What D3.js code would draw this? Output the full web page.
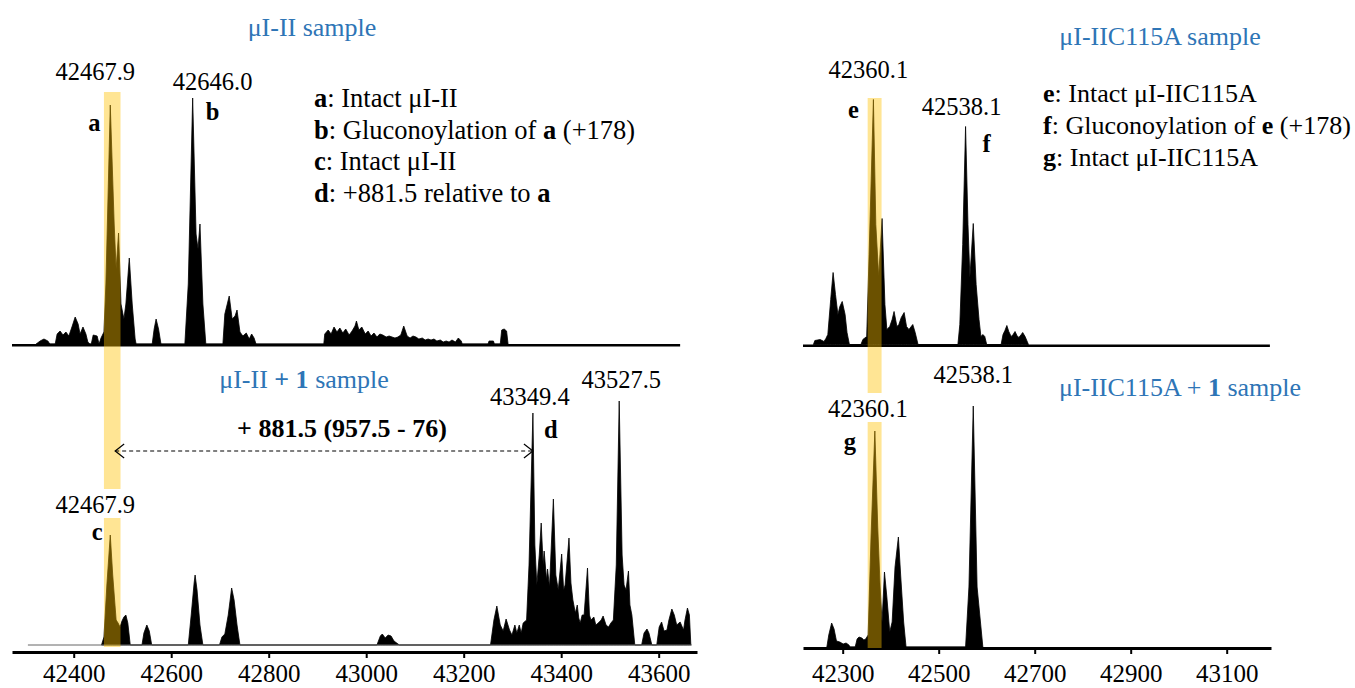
<!DOCTYPE html>
<html><head><meta charset="utf-8">
<script src="https://cdn.jsdelivr.net/npm/d3@7"></script>
<style>
body{margin:0;background:#fff;}
svg{display:block;}
text{font-family:"Liberation Serif","Times New Roman",serif;}
</style></head><body>
<svg id="c" width="1355" height="688"></svg>
<script>
// ---------- data (mass in Da, relative intensity a.u.) ----------
const ticksLeft = [42400, 42600, 42800, 43000, 43200, 43400, 43600];
const ticksRight = [42300, 42500, 42700, 42900, 43100];

const specTopLeft = [
 [42323,0],[42331,3],[42339,5],[42347,3],[42351,0],[42362,0],[42366,10],[42372,13],[42378,9],[42384,12],[42390,8],[42397,18],[42403,27],[42409,20],[42413,10],[42419,17],[42425,10],[42429,2],[42433,0],[42436,0],[42440,9],[42448,8],[42452,0],[42456,6],[42462,12],[42466,60],[42475,239],[42483,120],[42487,75],[42492,111],[42497,40],[42503,25],[42507,40],[42514,86],[42520,40],[42526,5],[42528,0],
 [42561,0],[42565,15],[42569,25],[42574,15],[42579,0],
 [42628,0],[42635,60],[42644,246],[42651,110],[42655,95],[42659,120],[42665,40],[42671,0],
 [42706,0],[42710,30],[42719,48],[42725,25],[42731,28],[42735,34],[42741,12],[42747,8],[42754,11],[42760,5],[42765,10],[42770,6],[42774,0],
 [42913,0],[42915,10],[42922,14],[42928,10],[42934,17],[42940,12],[42946,16],[42952,11],[42958,15],[42965,9],[42971,13],[42977,18],[42980,23],[42985,14],[42991,17],[42998,10],[43004,13],[43010,8],[43016,11],[43022,7],[43028,10],[43034,9],[43041,7],[43047,8],[43053,7],[43059,6],[43065,7],[43071,9],[43077,18],[43084,8],[43090,6],[43096,8],[43102,7],[43108,5],[43115,6],[43121,4],[43127,5],[43133,4],[43139,5],[43145,3],[43152,4],[43158,2],[43164,3],[43170,2],[43176,4],[43183,2],[43189,6],[43195,3],[43197,0],
 [43250,0],[43252,3],[43261,3],[43263,0],[43275,0],[43278,14],[43283,15],[43288,13],[43291,0]
];

const specBottomLeft = [
 [42457,0],[42462,8],[42468,60],[42475,110],[42480,70],[42487,25],[42491,22],[42495,18],[42499,24],[42503,28],[42507,30],[42511,22],[42516,0],
 [42540,0],[42544,12],[42550,20],[42555,14],[42560,0],
 [42635,0],[42641,30],[42647,62],[42649,70],[42653,55],[42659,20],[42665,0],
 [42699,0],[42704,8],[42710,11],[42717,30],[42724,57],[42729,45],[42735,20],[42741,0],
 [43022,0],[43029,9],[43033,11],[43039,7],[43045,10],[43051,9],[43057,4],[43068,0],
 [43255,0],[43262,25],[43268,39],[43275,20],[43281,14],[43287,26],[43294,15],[43299,10],[43305,20],[43309,12],[43314,20],[43318,12],[43322,22],[43329,25],[43334,80],[43342,232],[43346,100],[43350,60],[43355,90],[43359,122],[43363,80],[43365,94],[43370,65],[43372,76],[43376,58],[43384,146],[43389,70],[43394,55],[43401,91],[43405,55],[43408,60],[43416,107],[43420,62],[43424,45],[43429,32],[43433,40],[43436,27],[43439,22],[43443,30],[43447,30],[43454,77],[43458,30],[43461,25],[43467,28],[43471,20],[43476,22],[43482,25],[43486,29],[43492,20],[43497,18],[43502,22],[43507,25],[43513,80],[43519,244],[43525,90],[43529,60],[43533,55],[43538,74],[43541,40],[43545,30],[43551,0],
 [43565,0],[43570,12],[43576,16],[43580,12],[43586,0],
 [43596,0],[43601,18],[43606,23],[43611,14],[43617,15],[43621,25],[43627,36],[43632,30],[43637,20],[43644,23],[43651,15],[43654,25],[43659,37],[43663,30],[43666,0]
];

const specTopRight = [
 [42239,0],[42242,4],[42253,5],[42261,3],[42265,6],[42269,10],[42275,45],[42280,72],[42285,50],[42290,30],[42294,38],[42299,43],[42305,30],[42309,12],[42314,0],
 [42338,0],[42342,5],[42350,8],[42355,90],[42364,245],[42369,120],[42375,68],[42382,126],[42388,40],[42392,15],[42398,18],[42403,25],[42407,33],[42413,18],[42417,20],[42422,27],[42428,32],[42433,18],[42438,15],[42446,20],[42451,12],[42457,0],
 [42540,0],[42544,20],[42550,100],[42556,218],[42561,120],[42565,67],[42572,121],[42578,60],[42584,25],[42588,8],[42592,10],[42596,8],[42600,0],
 [42630,0],[42634,10],[42638,14],[42642,19],[42646,13],[42651,8],[42655,10],[42659,13],[42663,9],[42667,7],[42672,10],[42675,12],[42680,8],[42687,0]
];

const specBottomRight = [
 [42267,0],[42271,12],[42277,24],[42282,18],[42287,6],[42294,5],[42301,3],[42307,4],[42313,2],[42315,0],
 [42326,0],[42330,8],[42334,10],[42340,9],[42344,7],[42348,8],[42353,12],[42359,110],[42367,216],[42373,120],[42378,60],[42382,25],[42387,75],[42392,50],[42398,15],[42403,25],[42409,80],[42416,110],[42421,70],[42427,25],[42432,0],
 [42556,0],[42563,60],[42572,241],[42580,60],[42592,0]
];

const bandLeft = [42462, 42496];
const bandRight = [42352, 42381];
const arrowMasses = [42485, 43342];

const titles = {
  tl: [["μI-II sample", false]],
  bl: [["μI-II ", false], ["+ 1", true], [" sample", false]],
  tr: [["μI-IIC115A sample", false]],
  br: [["μI-IIC115A + ", false], ["1", true], [" sample", false]]
};
const legendLeft = [
  [["a", true], [": Intact μI-II", false]],
  [["b", true], [": Gluconoylation of ", false], ["a", true], [" (+178)", false]],
  [["c", true], [": Intact μI-II", false]],
  [["d", true], [": +881.5 relative to ", false], ["a", true]]
];
const legendRight = [
  [["e", true], [": Intact μI-IIC115A", false]],
  [["f", true], [": Gluconoylation of ", false], ["e", true], [" (+178)", false]],
  [["g", true], [": Intact μI-IIC115A", false]]
];
const massLabels = ["42467.9", "42646.0", "43349.4", "43527.5", "42360.1", "42538.1"];
const deltaLabel = "+ 881.5 (957.5 - 76)";

// ---------- layout ----------
const FONT = "'Liberation Serif','Times New Roman',serif";
const svg = d3.select("#c");
const BLUE = "#2e75b6";
const xL = d3.scaleLinear().domain([42273.4, 43678.6]).range([12, 697]);
const xR = d3.scaleLinear().domain([42217.3, 43192.3]).range([803, 1271]);
const yTL = d3.scaleLinear().domain([0, 250]).range([344, 94]);
const yBL = d3.scaleLinear().domain([0, 250]).range([645, 395]);
const yTR = d3.scaleLinear().domain([0, 250]).range([344.5, 94.5]);
const yBR = d3.scaleLinear().domain([0, 250]).range([647, 397]);

function drawSpec(data, x, y) {
  const area = d3.area().x(d => x(d[0])).y0(y(0)).y1(d => y(d[1]));
  svg.append("path").datum(data).attr("d", area).attr("fill", "#000").attr("stroke", "#000").attr("stroke-width", 0.8);
}
drawSpec(specTopLeft, xL, yTL);
drawSpec(specBottomLeft, xL, yBL);
drawSpec(specTopRight, xR, yTR);
drawSpec(specBottomRight, xR, yBR);

// baselines
svg.append("line").attr("x1", xL(42273.4)).attr("x2", xL(43644)).attr("y1", yTL(0) + 1.2).attr("y2", yTL(0) + 1.2)
  .attr("stroke", "#000").attr("stroke-width", 2.5);
svg.append("line").attr("x1", xL(42306)).attr("x2", xL(43668)).attr("y1", yBL(0)).attr("y2", yBL(0))
  .attr("stroke", "#666").attr("stroke-width", 1);
svg.append("line").attr("x1", xR(42217.3)).attr("x2", xR(43190)).attr("y1", yTR(0) + 1.2).attr("y2", yTR(0) + 1.2)
  .attr("stroke", "#000").attr("stroke-width", 2.5);

// axes
function styleAxis(g, lblY) {
  g.attr("font-family", FONT);
  g.select(".domain").attr("stroke", "#000").attr("stroke-width", 3);
  g.selectAll(".tick line").attr("stroke", "#000").attr("stroke-width", 2);
  g.selectAll(".tick text").attr("y", lblY).attr("dy", 0).attr("fill", "#000")
    .attr("font-family", FONT).style("font-family", FONT).style("font-size", "25px");
}
const axL = svg.append("g").attr("transform", "translate(0,652)")
  .call(d3.axisBottom(xL).tickValues(ticksLeft).tickFormat(d3.format("d")).tickSize(6).tickSizeOuter(0));
styleAxis(axL, 30);
const axR = svg.append("g").attr("transform", "translate(0,648)")
  .call(d3.axisBottom(xR).tickValues(ticksRight).tickFormat(d3.format("d")).tickSize(6).tickSizeOuter(0));
styleAxis(axR, 34);

// highlight bands
svg.append("rect").attr("x", xL(bandLeft[0])).attr("width", xL(bandLeft[1]) - xL(bandLeft[0]))
  .attr("y", 92).attr("height", 647 - 92).attr("fill", "#FFC000").attr("opacity", 0.42);
svg.append("rect").attr("x", xR(bandRight[0])).attr("width", xR(bandRight[1]) - xR(bandRight[0]))
  .attr("y", 98).attr("height", 648 - 98).attr("fill", "#FFC000").attr("opacity", 0.42);

// text helpers
function rich(x, y, parts, size, color, anchor) {
  const t = svg.append("text").attr("x", x).attr("y", y).attr("font-size", size).attr("font-family", FONT)
    .attr("fill", color).attr("text-anchor", anchor || "start").attr("xml:space", "preserve");
  parts.forEach(p => {
    const s = t.append("tspan").text(p[0]);
    if (p[1]) s.attr("font-weight", "bold");
  });
  return t;
}
function label(x, y, txt, size, bold, bg) {
  if (bg) {
    svg.append("rect").attr("x", x - 40).attr("y", y - 24).attr("width", 80).attr("height", 29).attr("fill", "#fff");
  }
  return svg.append("text").attr("x", x).attr("y", y).attr("text-anchor", "middle").attr("font-family", FONT)
    .attr("font-size", size).attr("font-weight", bold ? "bold" : "normal").attr("fill", "#000").text(txt);
}

// titles
rich(312, 36, titles.tl, 26, BLUE, "middle");
rich(304, 388, titles.bl, 26, BLUE, "middle");
rich(1160, 45, titles.tr, 26, BLUE, "middle");
rich(1180, 396, titles.br, 26, BLUE, "middle");

// legends
legendLeft.forEach((l, i) => rich(314, 107 + i * 31.6, l, 26.5, "#000"));
legendRight.forEach((l, i) => rich(1043, 102 + i * 32, l, 26, "#000"));

// peak labels (top-left)
label(xL(42475) - 15, 80, massLabels[0], 24.5);
label(xL(42644) + 20, 90, massLabels[1], 24.5);
label(xL(42475) - 16, 131, "a", 24.5, true);
label(xL(42644) + 20, 120, "b", 24.5, true);
// bottom-left
label(xL(43342) - 3, 405, massLabels[2], 24.5);
label(xL(43519) + 2, 388, massLabels[3], 24.5);
label(xL(43342) + 18, 438, "d", 24.5, true);
label(xL(42475) - 15, 513, massLabels[0], 24.5, false, true);
label(xL(42475) - 13, 540, "c", 24.5, true);
// top-right
label(xR(42364) - 5, 78, massLabels[4], 24.5);
label(xR(42364) - 20, 118, "e", 24.5, true);
label(xR(42556) - 4, 115, massLabels[5], 24.5);
label(xR(42556) + 21, 152, "f", 24.5, true);
// bottom-right
label(xR(42572), 383, massLabels[5], 24.5);
label(xR(42367) - 7, 417, massLabels[4], 24.5, false, true);
label(xR(42367) - 25, 450, "g", 24.5, true);

// delta arrow
const ay = yBL(194);
const ax1 = xL(arrowMasses[0]), ax2 = xL(arrowMasses[1]);
svg.append("line").attr("x1", ax1).attr("x2", ax2).attr("y1", ay).attr("y2", ay)
  .attr("stroke", "#000").attr("stroke-width", 1.2).attr("stroke-dasharray", "4,3");
svg.append("path").attr("d", `M${ax1 + 9},${ay - 7}L${ax1},${ay}L${ax1 + 9},${ay + 7}`)
  .attr("fill", "none").attr("stroke", "#000").attr("stroke-width", 1.2);
svg.append("path").attr("d", `M${ax2 - 9},${ay - 7}L${ax2},${ay}L${ax2 - 9},${ay + 7}`)
  .attr("fill", "none").attr("stroke", "#000").attr("stroke-width", 1.2);
svg.append("text").attr("x", 342).attr("y", 437).attr("text-anchor", "middle").attr("font-size", 26)
  .attr("font-family", FONT).attr("font-weight", "bold").attr("fill", "#000").text(deltaLabel);
</script>
</body></html>
